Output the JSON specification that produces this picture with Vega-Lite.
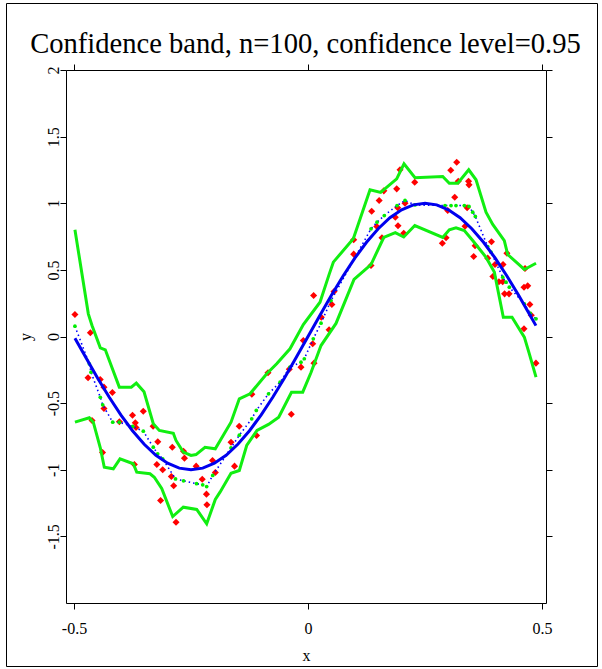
{
  "$schema": "https://vega.github.io/schema/vega-lite/v6.json",
  "width": 591,
  "height": 663,
  "autosize": {"type": "none"},
  "padding": {"left": 6, "top": 3, "right": 5, "bottom": 3},
  "background": "white",
  "config": {
    "view": {"stroke": "black", "strokeWidth": 1},
    "font": "Liberation Serif"
  },
  "title": {
    "text": "Confidence band, n=100, confidence level=0.95",
    "font": "Liberation Serif",
    "fontSize": 28.6,
    "fontWeight": "normal",
    "color": "black",
    "anchor": "middle",
    "baseline": "alphabetic",
    "offset": -79,
    "dx": 4
  },
  "datasets": {
    "obs": [
      {"x":-0.498,"y":0.165},{"x":-0.465,"y":0.028},{"x":-0.470,"y":-0.310},{"x":-0.444,"y":-0.323},{"x":-0.436,"y":-0.380},
      {"x":-0.418,"y":-0.420},{"x":-0.436,"y":-0.540},{"x":-0.4615,"y":-0.630},{"x":-0.439,"y":-0.871},{"x":-0.403,"y":-0.640},
      {"x":-0.375,"y":-0.591},{"x":-0.352,"y":-0.561},{"x":-0.369,"y":-0.648},{"x":-0.3675,"y":-0.683},{"x":-0.331,"y":-0.673},
      {"x":-0.321,"y":-0.790},{"x":-0.371,"y":-0.961},{"x":-0.323,"y":-0.961},{"x":-0.3105,"y":-1.000},{"x":-0.290,"y":-0.831},
      {"x":-0.266,"y":-0.861},{"x":-0.264,"y":-0.913},{"x":-0.292,"y":-1.051},{"x":-0.287,"y":-1.120},{"x":-0.315,"y":-1.231},
      {"x":-0.282,"y":-1.394},{"x":-0.239,"y":-0.973},{"x":-0.204,"y":-0.931},{"x":-0.198,"y":-1.021},{"x":-0.226,"y":-1.071},
      {"x":-0.217,"y":-1.183},{"x":-0.216,"y":-1.263},{"x":-0.1645,"y":-0.793},{"x":-0.147,"y":-0.673},{"x":-0.157,"y":-0.973},
      {"x":-0.110,"y":-0.743},{"x":-0.120,"y":-0.433},{"x":-0.0855,"y":-0.272},{"x":-0.040,"y":-0.245},{"x":-0.015,"y":-0.230},
      {"x":-0.0357,"y":-0.583},{"x":-0.010,"y":-0.030},{"x":0.012,"y":0.308},{"x":0.010,"y":-0.055},{"x":0.0128,"y":-0.200},
      {"x":0.0284,"y":0.145},{"x":0.045,"y":0.050},{"x":0.051,"y":0.240},{"x":0.0556,"y":0.338},{"x":0.0976,"y":0.726},
      {"x":0.0976,"y":0.618},{"x":0.1346,"y":0.533},{"x":0.136,"y":0.940},{"x":0.147,"y":0.826},{"x":0.152,"y":1.021},
      {"x":0.158,"y":0.741},{"x":0.162,"y":1.093},{"x":0.1895,"y":1.108},{"x":0.1966,"y":1.251},{"x":0.1917,"y":0.966},
      {"x":0.1865,"y":0.895},{"x":0.1923,"y":0.831},{"x":0.2045,"y":0.775},{"x":0.2073,"y":1.000},{"x":0.228,"y":1.158},
      {"x":0.3177,"y":1.308},{"x":0.305,"y":1.248},{"x":0.321,"y":1.165},{"x":0.343,"y":1.165},{"x":0.344,"y":1.138},
      {"x":0.3135,"y":1.045},{"x":0.340,"y":0.966},{"x":0.2985,"y":0.946},{"x":0.3355,"y":0.828},{"x":0.295,"y":0.741},
      {"x":0.287,"y":0.700},{"x":0.357,"y":0.681},{"x":0.392,"y":0.711},{"x":0.354,"y":0.600},{"x":0.384,"y":0.588},
      {"x":0.425,"y":0.625},{"x":0.3996,"y":0.540},{"x":0.4167,"y":0.540},{"x":0.395,"y":0.450},{"x":0.408,"y":0.411},
      {"x":0.416,"y":0.411},{"x":0.420,"y":0.320},{"x":0.4295,"y":0.320},{"x":0.4637,"y":0.510},{"x":0.4615,"y":0.370},
      {"x":0.4694,"y":0.380},{"x":0.474,"y":0.240},{"x":0.477,"y":0.160},{"x":0.4615,"y":0.058},{"x":0.487,"y":-0.200}
    ],
    "band": [
      {"side":"upper","x":-0.498,"y":0.801},{"side":"upper","x":-0.4694,"y":0.170},{"side":"upper","x":-0.4615,"y":0.083},
      {"side":"upper","x":-0.4438,"y":-0.085},{"side":"upper","x":-0.4331,"y":-0.100},{"side":"upper","x":-0.4032,"y":-0.380},
      {"side":"upper","x":-0.3776,"y":-0.380},{"side":"upper","x":-0.3669,"y":-0.350},{"side":"upper","x":-0.3504,"y":-0.415},
      {"side":"upper","x":-0.3306,"y":-0.655},{"side":"upper","x":-0.3177,"y":-0.705},{"side":"upper","x":-0.2878,"y":-0.726},
      {"side":"upper","x":-0.2821,"y":-0.780},{"side":"upper","x":-0.2665,"y":-0.868},{"side":"upper","x":-0.2500,"y":-0.893},
      {"side":"upper","x":-0.2393,"y":-0.886},{"side":"upper","x":-0.2201,"y":-0.831},{"side":"upper","x":-0.1981,"y":-0.843},
      {"side":"upper","x":-0.1645,"y":-0.643},{"side":"upper","x":-0.1468,"y":-0.468},{"side":"upper","x":-0.1239,"y":-0.430},
      {"side":"upper","x":-0.0882,"y":-0.280},{"side":"upper","x":-0.0669,"y":-0.205},{"side":"upper","x":-0.0385,"y":-0.092},
      {"side":"upper","x":-0.0100,"y":0.090},{"side":"upper","x":0.0256,"y":0.257},{"side":"upper","x":0.0455,"y":0.470},
      {"side":"upper","x":0.0541,"y":0.558},{"side":"upper","x":0.0968,"y":0.733},{"side":"upper","x":0.1325,"y":1.101},
      {"side":"upper","x":0.1553,"y":1.081},{"side":"upper","x":0.1895,"y":1.183},{"side":"upper","x":0.2051,"y":1.296},
      {"side":"upper","x":0.2286,"y":1.191},{"side":"upper","x":0.2878,"y":1.201},{"side":"upper","x":0.3019,"y":1.150},
      {"side":"upper","x":0.3199,"y":1.150},{"side":"upper","x":0.3434,"y":1.251},{"side":"upper","x":0.3590,"y":1.176},
      {"side":"upper","x":0.3803,"y":0.933},{"side":"upper","x":0.3947,"y":0.841},{"side":"upper","x":0.4194,"y":0.720},
      {"side":"upper","x":0.4267,"y":0.615},{"side":"upper","x":0.4622,"y":0.503},{"side":"upper","x":0.4872,"y":0.550},
      {"side":"lower","x":-0.498,"y":-0.643},{"side":"lower","x":-0.4673,"y":-0.610},{"side":"lower","x":-0.4588,"y":-0.643},
      {"side":"lower","x":-0.4438,"y":-0.835},{"side":"lower","x":-0.4353,"y":-0.981},{"side":"lower","x":-0.4160,"y":-0.993},
      {"side":"lower","x":-0.4017,"y":-0.918},{"side":"lower","x":-0.3733,"y":-0.955},{"side":"lower","x":-0.3660,"y":-1.018},
      {"side":"lower","x":-0.3376,"y":-1.030},{"side":"lower","x":-0.3284,"y":-1.056},{"side":"lower","x":-0.3126,"y":-1.141},
      {"side":"lower","x":-0.2891,"y":-1.351},{"side":"lower","x":-0.2665,"y":-1.281},{"side":"lower","x":-0.2378,"y":-1.298},
      {"side":"lower","x":-0.2165,"y":-1.406},{"side":"lower","x":-0.1981,"y":-1.223},{"side":"lower","x":-0.1880,"y":-1.168},
      {"side":"lower","x":-0.1645,"y":-1.026},{"side":"lower","x":-0.1468,"y":-1.006},{"side":"lower","x":-0.1310,"y":-0.818},
      {"side":"lower","x":-0.1090,"y":-0.705},{"side":"lower","x":-0.0844,"y":-0.660},{"side":"lower","x":-0.0626,"y":-0.606},
      {"side":"lower","x":-0.0353,"y":-0.418},{"side":"lower","x":-0.0113,"y":-0.418},{"side":"lower","x":0.0064,"y":-0.270},
      {"side":"lower","x":0.0278,"y":-0.068},{"side":"lower","x":0.0598,"y":0.098},{"side":"lower","x":0.0983,"y":0.428},
      {"side":"lower","x":0.1346,"y":0.540},{"side":"lower","x":0.1618,"y":0.743},{"side":"lower","x":0.1865,"y":0.780},
      {"side":"lower","x":0.2045,"y":0.747},{"side":"lower","x":0.2282,"y":0.833},{"side":"lower","x":0.2878,"y":0.743},
      {"side":"lower","x":0.3019,"y":0.801},{"side":"lower","x":0.3162,"y":0.816},{"side":"lower","x":0.3340,"y":0.795},
      {"side":"lower","x":0.3519,"y":0.720},{"side":"lower","x":0.3803,"y":0.595},{"side":"lower","x":0.3981,"y":0.483},
      {"side":"lower","x":0.4088,"y":0.295},{"side":"lower","x":0.4173,"y":0.145},{"side":"lower","x":0.4359,"y":0.145},
      {"side":"lower","x":0.4622,"y":-0.005},{"side":"lower","x":0.4729,"y":-0.130},{"side":"lower","x":0.4872,"y":-0.305}
    ],
    "est": [
      {"x":-0.498,"y":0.077},{"x":-0.4673,"y":-0.205},{"x":-0.4637,"y":-0.268},{"x":-0.4438,"y":-0.456},{"x":-0.4387,"y":-0.513},
      {"x":-0.4173,"y":-0.643},{"x":-0.4032,"y":-0.643},{"x":-0.3746,"y":-0.675},{"x":-0.3519,"y":-0.711},{"x":-0.3306,"y":-0.831},
      {"x":-0.3212,"y":-0.880},{"x":-0.3105,"y":-0.918},{"x":-0.2831,"y":-1.069},{"x":-0.2660,"y":-1.083},{"x":-0.2382,"y":-1.105},
      {"x":-0.2250,"y":-1.113},{"x":-0.2165,"y":-1.126},{"x":-0.2036,"y":-1.043},{"x":-0.1645,"y":-0.835},{"x":-0.1468,"y":-0.741},
      {"x":-0.1203,"y":-0.618},{"x":-0.1105,"y":-0.555},{"x":-0.0844,"y":-0.430},{"x":-0.0598,"y":-0.343},{"x":-0.0385,"y":-0.230},
      {"x":-0.0150,"y":-0.193},{"x":-0.0079,"y":-0.167},{"x":0.0113,"y":-0.017},{"x":0.0278,"y":0.100},{"x":0.0491,"y":0.270},
      {"x":0.1346,"y":0.808},{"x":0.1474,"y":0.858},{"x":0.1630,"y":0.908},{"x":0.1902,"y":0.983},{"x":0.2073,"y":1.021},
      {"x":0.2286,"y":0.987},{"x":0.2927,"y":0.983},{"x":0.3056,"y":0.983},{"x":0.3162,"y":0.983},{"x":0.3340,"y":0.983},
      {"x":0.3440,"y":0.976},{"x":0.3519,"y":0.933},{"x":0.3575,"y":0.901},{"x":0.3840,"y":0.675},{"x":0.3910,"y":0.633},
      {"x":0.4160,"y":0.445},{"x":0.4231,"y":0.408},{"x":0.4301,"y":0.370},{"x":0.4622,"y":0.245},{"x":0.4744,"y":0.175},
      {"x":0.4872,"y":0.133}
    ],
    "truth": [
      {"x":-0.498,"y":-0.0126},{"x":-0.475,"y":-0.1564},{"x":-0.45,"y":-0.309},{"x":-0.425,"y":-0.454},{"x":-0.4,"y":-0.5878},
      {"x":-0.375,"y":-0.7071},{"x":-0.35,"y":-0.809},{"x":-0.325,"y":-0.891},{"x":-0.3,"y":-0.9511},{"x":-0.275,"y":-0.9877},
      {"x":-0.25,"y":-1.0},{"x":-0.225,"y":-0.9877},{"x":-0.2,"y":-0.9511},{"x":-0.175,"y":-0.891},{"x":-0.15,"y":-0.809},
      {"x":-0.125,"y":-0.7071},{"x":-0.1,"y":-0.5878},{"x":-0.075,"y":-0.454},{"x":-0.05,"y":-0.309},{"x":-0.025,"y":-0.1564},
      {"x":0.0,"y":0.0},{"x":0.025,"y":0.1564},{"x":0.05,"y":0.309},{"x":0.075,"y":0.454},{"x":0.1,"y":0.5878},
      {"x":0.125,"y":0.7071},{"x":0.15,"y":0.809},{"x":0.175,"y":0.891},{"x":0.2,"y":0.9511},{"x":0.225,"y":0.9877},
      {"x":0.25,"y":1.0},{"x":0.275,"y":0.9877},{"x":0.3,"y":0.9511},{"x":0.325,"y":0.891},{"x":0.35,"y":0.809},
      {"x":0.375,"y":0.7071},{"x":0.4,"y":0.5878},{"x":0.425,"y":0.454},{"x":0.45,"y":0.309},{"x":0.475,"y":0.1564},
      {"x":0.487,"y":0.0816}
    ]
  },
  "resolve": {"axis": {"x": "independent", "y": "independent"}},
  "layer": [
    {
      "data": {"name": "obs"},
      "mark": {"type": "point", "shape": "diamond", "filled": true, "color": "#ff0000", "size": 50, "opacity": 1},
      "encoding": {
        "x": {"field": "x", "type": "quantitative",
          "scale": {"domain": [-0.5171, 0.5085], "range": [60, 540], "nice": false, "zero": false},
          "axis": {"orient": "bottom", "offset": -63, "values": [-0.5, 0, 0.5], "labelExpr": "'' + datum.value",
            "grid": false, "domainColor": "black", "domainWidth": 1, "tickColor": "black", "tickSize": 6, "tickWidth": 1,
            "labelFont": "Liberation Serif", "labelFontSize": 16, "labelColor": "black", "labelPadding": 11,
            "title": "x", "titleFont": "Liberation Serif", "titleFontSize": 16, "titleFontWeight": "normal", "titleColor": "black", "titlePadding": 11}},
        "y": {"field": "y", "type": "quantitative",
          "scale": {"domain": [-2, 2], "range": [600, 67], "nice": false, "zero": false},
          "axis": {"orient": "left", "offset": -60, "values": [-1.5, -1, -0.5, 0, 0.5, 1, 1.5, 2], "labelExpr": "'' + datum.value",
            "grid": false, "domainColor": "black", "domainWidth": 1, "tickColor": "black", "tickSize": 6, "tickWidth": 1,
            "labelFont": "Liberation Serif", "labelFontSize": 16, "labelColor": "black", "labelAngle": -90,
            "labelAlign": "center", "labelBaseline": "alphabetic", "labelPadding": 2,
            "title": "y", "titleFont": "Liberation Serif", "titleFontSize": 16, "titleFontWeight": "normal", "titleColor": "black", "titlePadding": 12}}
      }
    },
    {
      "data": {"name": "est"},
      "mark": {"type": "line", "color": "#0000ff", "strokeWidth": 1.6, "strokeDash": [1.5, 3]},
      "encoding": {
        "x": {"field": "x", "type": "quantitative", "axis": null},
        "y": {"field": "y", "type": "quantitative", "axis": null}
      }
    },
    {
      "data": {"name": "est"},
      "mark": {"type": "circle", "color": "#00ee00", "size": 14, "opacity": 1},
      "encoding": {
        "x": {"field": "x", "type": "quantitative", "axis": null},
        "y": {"field": "y", "type": "quantitative", "axis": null}
      }
    },
    {
      "data": {"name": "band"},
      "mark": {"type": "line", "color": "#11ee11", "strokeWidth": 3},
      "encoding": {
        "x": {"field": "x", "type": "quantitative",
          "axis": {"orient": "top", "offset": -67, "values": [-0.5, 0, 0.5], "labels": false, "title": null,
            "grid": false, "domainColor": "black", "domainWidth": 1, "tickColor": "black", "tickSize": 6, "tickWidth": 1}},
        "y": {"field": "y", "type": "quantitative",
          "axis": {"orient": "right", "offset": -51, "values": [-1.5, -1, -0.5, 0, 0.5, 1, 1.5, 2], "labels": false, "title": null,
            "grid": false, "domainColor": "black", "domainWidth": 1, "tickColor": "black", "tickSize": 6, "tickWidth": 1}},
        "detail": {"field": "side", "type": "nominal"}
      }
    },
    {
      "data": {"name": "truth"},
      "mark": {"type": "line", "color": "#0000ee", "strokeWidth": 3},
      "encoding": {
        "x": {"field": "x", "type": "quantitative", "axis": null},
        "y": {"field": "y", "type": "quantitative", "axis": null}
      }
    }
  ]
}
